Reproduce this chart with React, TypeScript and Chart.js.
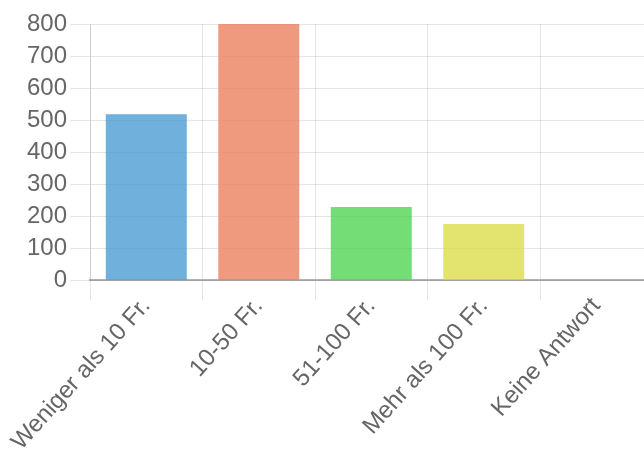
import React, { useEffect, useRef } from "react";
import { Chart, registerables } from "chart.js";

Chart.register(...registerables);

const categories = ["Weniger als 10 Fr.", "10-50 Fr.", "51-100 Fr.", "Mehr als 100 Fr.", "Keine Antwort"];
const values = [518, 800, 229, 176, 0];
const barColors = [
  "rgba(63,150,208,0.75)",
  "rgba(234,120,83,0.75)",
  "rgba(71,210,71,0.75)",
  "rgba(218,218,64,0.75)",
  "rgba(150,150,150,0.75)",
];
const yMax = 800;
const yStep = 100;

export default function App() {
  const ref = useRef<HTMLCanvasElement | null>(null);
  useEffect(() => {
    if (!ref.current) return;
    const chart = new Chart(ref.current, {
      type: "bar",
      data: {
        labels: categories,
        datasets: [
          {
            data: values,
            backgroundColor: barColors,
            borderWidth: 0,
          },
        ],
      },
      options: {
        animation: false,
        responsive: true,
        maintainAspectRatio: false,
        layout: { padding: { left: 24, top: 24, right: 17.5, bottom: 0 } },
        plugins: { legend: { display: false }, tooltip: { enabled: false } },
        scales: {
          x: {
            grid: { color: "rgba(0,0,0,0.1)", tickLength: 20 },
            border: { color: "rgba(0,0,0,0.3)", width: 2 },
            ticks: {
              color: "#666",
              padding: -8,
              font: { family: "'Liberation Sans', Arial, sans-serif", size: 24 },
              minRotation: 48,
              maxRotation: 48,
              autoSkip: false,
            },
          },
          y: {
            min: 0,
            max: yMax,
            grid: { color: "rgba(0,0,0,0.1)", tickLength: 20 },
            border: { color: "rgba(0,0,0,0.1)" },
            ticks: {
              stepSize: yStep,
              color: "#666",
              font: { family: "'Liberation Sans', Arial, sans-serif", size: 24 },
            },
          },
        },
      },
    });
    return () => chart.destroy();
  }, []);
  return (
    <div style={{ position: "fixed", left: 0, top: 0, width: 644, height: 452, overflow: "hidden", background: "#fff" }}>
      <div style={{ position: "absolute", left: 0, top: 0, width: 670, height: 448 }}>
        <canvas ref={ref} />
      </div>
    </div>
  );
}
